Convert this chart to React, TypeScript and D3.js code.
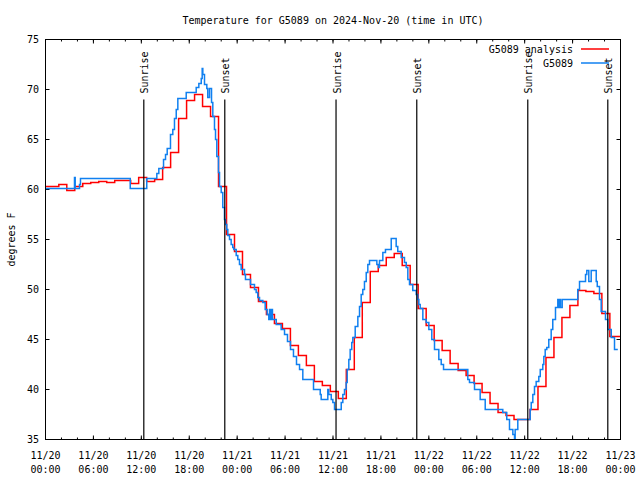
import React from "react";
import * as d3 from "d3";

const START_UTC = Date.UTC(2024, 10, 20, 0, 0);
const END_UTC = Date.UTC(2024, 10, 23, 0, 0);
const HOUR_MS = 3600e3;

const title = "Temperature for G5089 on 2024-Nov-20 (time in UTC)";
const yLabel = "degrees F";
const seriesNames = ["G5089 analysis", "G5089"];

// hourly analysis, first valid time 11/19 23:40 UTC
const analysisFirstMinute = -20;
const analysisTemps = [
  60.3, 60.3, 60.5, 59.9, 60.3, 60.6, 60.7, 60.8, 60.7, 60.9, 60.9, 60.6,
  61.2, 60.8, 61.0, 62.2, 63.7, 67.1, 68.9, 69.5, 68.3, 67.3, 60.3, 55.5,
  53.8, 51.5, 50.2, 48.8, 47.5, 46.6, 46.1, 44.4, 43.4, 42.4, 40.8, 40.4,
  39.8, 39.1, 42.0, 45.2, 48.7, 51.8, 52.4, 53.2, 53.6, 52.4, 50.5, 48.1,
  46.4, 44.9, 43.9, 42.6, 41.9, 41.4, 40.6, 39.7, 38.6, 37.7, 37.4, 37.0,
  37.0, 38.0, 40.3, 43.2, 45.2, 47.2, 48.4, 49.9, 49.8, 49.6, 47.6, 45.3, 45.3,
];

// observations: hours since 11/20 00:00 UTC
const obsHours = [
  0, 3.63, 3.72, 4.26, 4.38, 10.61, 12.68, 13.94, 14.19, 14.78, 15.03, 15.24,
  15.65, 15.94, 16.15, 16.37, 16.57, 17.62, 18.87, 19.2, 19.5, 19.62, 19.7,
  19.91, 20.2, 20.32, 20.54, 20.79, 20.95, 21.16, 21.29, 21.45, 21.66, 21.79,
  22.0, 22.2, 22.41, 22.54, 22.7, 22.83, 23.04, 23.25, 23.45, 23.58, 23.88,
  24.08, 24.29, 24.5, 24.92, 25.04, 25.67, 26.17, 26.38, 26.58, 26.8, 27.21,
  27.51, 27.76, 27.96, 28.05, 28.17, 28.3, 28.42, 28.89, 29.51, 29.93, 30.3,
  30.68, 31.05, 31.43, 31.81, 32.22, 33.56, 34.4, 34.52, 35.35, 35.47, 35.78,
  35.98, 36.19, 37.03, 37.23, 37.44, 37.65, 37.78, 37.98, 38.15, 38.35, 38.48,
  38.78, 39.11, 39.32, 39.53, 39.73, 39.94, 40.16, 40.36, 40.57, 41.49, 41.7,
  41.82, 42.24, 42.57, 43.29, 43.91, 44.11, 44.54, 44.95, 45.17, 45.37, 45.58,
  45.99, 46.42, 46.62, 46.75, 46.92, 47.25, 47.67, 48.0, 48.37, 48.71, 49.25,
  49.55, 49.84, 52.88, 53.09, 53.72, 54.43, 55.06, 57.26, 57.76, 58.1, 58.52,
  58.73, 58.81, 59.14, 60.69, 60.82, 61.02, 61.23, 61.44, 61.77, 61.95, 62.27,
  62.4, 62.57, 62.77, 63.02, 63.32, 63.52, 63.86, 64.15, 64.28, 64.4, 64.49,
  64.7, 66.65, 66.87, 67.62, 67.78, 68.03, 68.33, 68.96, 69.09, 69.37, 69.58,
  70.12, 70.41, 70.84, 71.25, 71.66,
];
const obsTemps = [
  60.1, 61.2, 60.1, 60.5, 61.1, 60.1, 61.1, 61.6, 62.1, 63.0, 63.5, 64.1,
  65.5, 66.0, 67.1, 68.0, 69.1, 69.7, 70.2, 70.6, 71.1, 72.1, 71.5,
  70.5, 70.1, 69.2, 70.1, 68.7, 67.3, 66.0, 65.0, 63.3, 61.7, 60.3,
  59.7, 58.2, 57.0, 56.5, 56.0, 55.4, 55.0, 54.5, 54.2, 54.0, 53.4,
  53.0, 52.5, 52.0, 51.5, 51.0, 50.5, 50.0, 49.7, 49.2, 48.9, 48.7,
  48.0, 47.5, 47.0, 48.0, 47.0, 48.0, 47.0, 46.5, 46.0, 45.5, 44.8,
  44.0, 43.3, 42.5, 42.0, 41.0, 40.0, 39.5, 39.0, 40.0, 39.5, 39.0,
  38.7, 38.0, 38.7, 39.5, 40.0, 40.7, 42.0, 43.0, 44.0, 44.7, 45.2,
  46.3, 47.3, 48.3, 49.5, 50.0, 50.8, 51.7, 52.5, 52.9, 52.5, 52.2,
  52.9, 53.7, 54.0, 55.1, 54.3, 53.8, 53.2, 52.7, 52.2, 51.0, 50.5,
  49.9, 49.5, 49.0, 48.5, 48.1, 47.0, 46.7, 46.0, 45.0, 44.0, 43.0,
  42.5, 42.0, 41.0, 40.7, 40.0, 39.0, 38.0, 37.7, 37.0, 36.0, 35.5,
  34.8, 36.0, 37.0, 38.0, 38.7, 39.5, 40.3, 40.8, 41.3, 42.0, 42.5,
  43.3, 44.0, 44.2, 45.0, 46.0, 47.0, 48.2, 49.0, 48.2, 49.0, 48.2,
  49.0, 50.0, 50.8, 51.5, 51.9, 50.8, 51.9, 50.8, 50.3, 49.0, 47.8,
  47.0, 46.0, 45.2, 44.0, 44.0,
];

const sunLabels = ["Sunrise", "Sunset", "Sunrise", "Sunset", "Sunrise", "Sunset"];
const sunHours = [12.31, 22.45, 36.38, 46.49, 60.39, 70.41];

const yTicks = [35, 40, 45, 50, 55, 60, 65, 70, 75];

const W = 640, H = 480;
const M = { left: 45.5, right: 620.5, top: 39.5, bottom: 439.5 };
const FONT = "'DejaVu Sans Mono', 'Liberation Mono', monospace";
const RED = "#ff0000";
const BLUE = "#1080f0";

export default function App() {
  const x = d3.scaleUtc().domain([new Date(START_UTC), new Date(END_UTC)]).range([M.left, M.right]);
  const y = d3.scaleLinear().domain([35, 75]).range([M.bottom, M.top]);

  const majorTicks = d3.utcHour.every(6)!.range(new Date(START_UTC), new Date(END_UTC + 1));
  const minorTicks = d3.utcHour.every(2)!.range(new Date(START_UTC), new Date(END_UTC + 1));
  const fmtDay = d3.utcFormat("%m/%d");
  const fmtTime = d3.utcFormat("%H:%M");

  type P = { t: Date; v: number };
  const analysis: P[] = analysisTemps.map((v, k) => ({
    t: new Date(START_UTC + (analysisFirstMinute + k * 60) * 60e3),
    v,
  }));
  analysis.push({ t: new Date(END_UTC), v: analysisTemps[analysisTemps.length - 1] });
  const obs: P[] = obsHours.map((h, i) => ({ t: new Date(START_UTC + h * HOUR_MS), v: obsTemps[i] }));

  const line = d3
    .line<P>()
    .x((d) => x(d.t))
    .y((d) => y(d.v))
    .curve(d3.curveStepAfter);

  const majLen = 4, minLen = 2;

  return (
    <svg width={W} height={H} style={{ position: "absolute", left: 0, top: 0, background: "#fff" }}
      fontFamily={FONT} fontSize={10}>
      <defs>
        <clipPath id="plotclip">
          <rect x={M.left} y={M.top} width={M.right - M.left} height={M.bottom - M.top} />
        </clipPath>
      </defs>
      <rect x={0} y={0} width={W} height={H} fill="#fff" />
      <text x={(M.left + M.right) / 2} y={23.5} textAnchor="middle" fill="#000">{title}</text>

      {/* y ticks */}
      {yTicks.map((v) => (
        <g key={"y" + v}>
          <line x1={M.left} x2={M.left + majLen} y1={y(v)} y2={y(v)} stroke="#000" />
          <line x1={M.right} x2={M.right - majLen} y1={y(v)} y2={y(v)} stroke="#000" />
          <text x={39} y={y(v)} dy="0.35em" textAnchor="end" fill="#000">{v}</text>
        </g>
      ))}

      {/* x minor ticks */}
      {minorTicks.map((d, i) => (
        <g key={"mx" + i}>
          <line x1={x(d)} x2={x(d)} y1={M.bottom} y2={M.bottom - minLen} stroke="#000" />
          <line x1={x(d)} x2={x(d)} y1={M.top} y2={M.top + minLen} stroke="#000" />
        </g>
      ))}
      {majorTicks.map((d, i) => (
        <g key={"x" + i}>
          <line x1={x(d)} x2={x(d)} y1={M.bottom} y2={M.bottom - majLen} stroke="#000" />
          <line x1={x(d)} x2={x(d)} y1={M.top} y2={M.top + majLen} stroke="#000" />
          <text x={x(d)} y={459} textAnchor="middle" fill="#000">{fmtDay(d)}</text>
          <text x={x(d)} y={473} textAnchor="middle" fill="#000">{fmtTime(d)}</text>
        </g>
      ))}

      <text transform={`translate(11,${(M.top + M.bottom) / 2}) rotate(-90)`} textAnchor="middle" dy="0.35em" fill="#000">
        {yLabel}
      </text>

      <g clipPath="url(#plotclip)">
        <path d={line(analysis) ?? ""} fill="none" stroke={RED} strokeWidth={1.5} />
        <path d={line(obs) ?? ""} fill="none" stroke={BLUE} strokeWidth={1.5} />
      </g>

      {/* sunrise / sunset */}
      {sunHours.map((h, i) => {
        const sx = x(new Date(START_UTC + h * HOUR_MS));
        return (
          <g key={"sun" + i}>
            <line x1={sx} x2={sx} y1={M.bottom} y2={y(69)} stroke="#000" strokeWidth={1.2} />
            <text transform={`translate(${sx + 4.5},${y(69) - 6}) rotate(-90)`} textAnchor="start" fill="#000">
              {sunLabels[i]}
            </text>
          </g>
        );
      })}

      {/* legend */}
      <text x={573} y={49} dy="0.35em" textAnchor="end" fill="#000">{seriesNames[0]}</text>
      <line x1={581} x2={609} y1={49} y2={49} stroke={RED} strokeWidth={1.5} />
      <text x={573} y={63} dy="0.35em" textAnchor="end" fill="#000">{seriesNames[1]}</text>
      <line x1={581} x2={609} y1={63} y2={63} stroke={BLUE} strokeWidth={1.5} />

      <rect x={M.left} y={M.top} width={M.right - M.left} height={M.bottom - M.top} fill="none" stroke="#000" />
    </svg>
  );
}
